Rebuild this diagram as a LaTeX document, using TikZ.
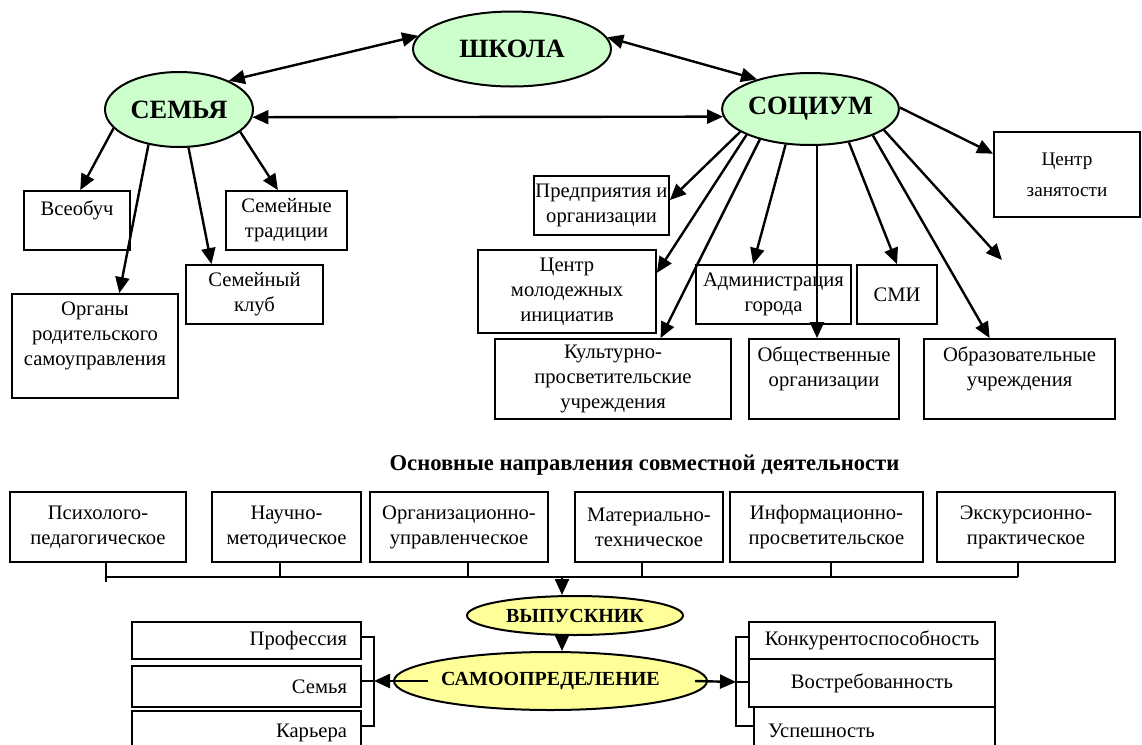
\documentclass[tikz,border=0pt]{standalone}
\usepackage{fontspec}
\setmainfont{Liberation Serif}
\usetikzlibrary{shapes.geometric,arrows.meta,calc}
\definecolor{ellgreen}{HTML}{CCFFCC}
\definecolor{ellyellow}{HTML}{FFFF99}
\newcommand\bxfont{\fontsize{10.3}{12.5}\selectfont}
\newcommand\bigbold{\fontsize{13.2}{15}\selectfont\bfseries}
\newcommand\midbold{\fontsize{10}{12}\selectfont\bfseries}
\begin{document}
\begin{tikzpicture}[x=0.5pt,y=-0.5pt,
  bx/.style={draw, line width=0.9pt, rectangle, inner sep=0pt, align=center, font=\bxfont, fill=white},
  ell/.style={draw, ellipse, line width=1pt, inner sep=0pt},
  gell/.style={ell, fill=ellgreen, font=\bigbold},
  yell/.style={ell, fill=ellyellow, font=\midbold},
  tip/.tip={Triangle[length=8pt,width=7pt]},
  arr/.style={line width=1.2pt, -tip},
  darr/.style={line width=1.2pt, tip-tip},
  brk/.style={line width=1pt},
]
\useasboundingbox (0,0) rectangle (1142,745);
\clip (0,0) rectangle (1142,745);

% ellipses top
\node[gell, minimum width=99pt, minimum height=37.5pt] (shkola) at (512,49) {ШКОЛА};
\node[gell, minimum width=74pt, minimum height=37.5pt] (semya) at (179,109.5) {СЕМЬЯ};
\node[gell, minimum width=87.5pt, minimum height=36pt] (socium) at (810.5,109) {СОЦИУМ};

% family boxes
\node[bx, minimum width=53pt, minimum height=29.5pt] (vseobuch) at (77,220.5) {Всеобуч\\~};
\node[bx, minimum width=60.5pt, minimum height=29.5pt] (trad) at (286.5,220.5) {Семейные\\традиции};
\node[bx, minimum width=68.5pt, minimum height=29.5pt] (klub) at (254.5,294.5) {Семейный\\клуб};
\node[bx, minimum width=83pt, minimum height=52pt] (organy) at (95,346) {Органы\\родительского\\самоуправления\\~};

% society boxes
\node[bx, minimum width=67.5pt, minimum height=29.5pt] (predpr) at (601.5,205.5) {Предприятия и\\организации};
\node[bx, minimum width=89pt, minimum height=41.5pt] (cmol) at (567,291.5) {Центр\\молодежных\\инициатив};
\node[bx, minimum width=77.5pt, minimum height=29.5pt] (admin) at (773.5,294.5) {Администрация\\города};
\node[bx, minimum width=118pt, minimum height=40pt] (kult) at (613,379) {Культурно-\\просветительские\\учреждения};
\node[bx, minimum width=75pt, minimum height=40pt] (obsch) at (824,379) {Общественные\\организации\\~};
\node[bx, minimum width=40pt, minimum height=29.5pt] (smi) at (897,294.5) {СМИ};
\node[bx, minimum width=95.5pt, minimum height=40pt] (obraz) at (1019.5,379) {Образовательные\\учреждения\\~};
\node[bx, minimum width=73pt, minimum height=42.5pt, font=\fontsize{9.6}{12.5}\selectfont] (zanyat) at (1067,174.5) {Центр\\[3pt]занятости};
\coordinate (free) at (1002,260);

% top connectors
\draw[darr] (shkola.172) -- (semya.30);
\draw[darr] (shkola.7) -- (socium.151);
\draw[darr] (semya.-6) -- (socium.185);

\draw[arr] (semya.196) -- ($(vseobuch.north west)!0.53!(vseobuch.north east)$);
\draw[arr] (semya.229) -- ($(organy.north west)!0.645!(organy.north east)$);
\draw[arr] (semya.284) -- ($(klub.north west)!0.19!(klub.north east)$);
\draw[arr] (semya.340) -- ($(trad.north west)!0.43!(trad.north east)$);

\draw[arr] (socium.198) -- ($(predpr.north east)!0.41!(predpr.south east)$);
\draw[arr] (socium.202) -- ($(cmol.north east)!0.28!(cmol.south east)$);
\draw[arr] (socium.211) -- ($(kult.north west)!0.7!(kult.north east)$);
\draw[arr] (socium.235) -- ($(admin.north west)!0.37!(admin.north east)$);
\draw[arr] (socium.-80) -- (socium.-80 |- obsch.north);
\draw[arr] (socium.-41) -- (smi.north);
\draw[arr] (socium.-23) -- ($(obraz.north west)!0.345!(obraz.north east)$);
\draw[arr] (socium.-16) -- (free);
\draw[arr] (socium.1) -- ($(zanyat.north west)!0.26!(zanyat.south west)$);

% title
\node[font=\fontsize{11.3}{13}\selectfont\bfseries, inner sep=0pt] (title) at (644.5,465) {Основные направления совместной деятельности};

% directions row
\node[bx, minimum width=88pt, minimum height=35pt] (psych) at (98,527) {Психолого-\\педагогическое};
\node[bx, minimum width=74.5pt, minimum height=35pt] (nauch) at (286.5,527) {Научно-\\методическое};
\node[bx, minimum width=89pt, minimum height=35pt] (organ) at (459,527) {Организационно-\\управленческое};
\node[bx, minimum width=74pt, minimum height=35pt] (mater) at (649,527) {Материально-\\техническое};
\node[bx, minimum width=96.5pt, minimum height=35pt] (inform) at (826.5,527) {Информационно-\\просветительское};
\node[bx, minimum width=89pt, minimum height=35pt] (ekskurs) at (1026,527) {Экскурсионно-\\практическое};

\coordinate (t1) at (106,577);
\coordinate (t2) at (280,577);
\coordinate (t3) at (468,577);
\coordinate (t4) at (642,577);
\coordinate (t5) at (831,577);
\coordinate (t6) at (1018,577);
\coordinate (bv) at (562,577);
\draw[brk] (t1 |- psych.south) -- ($(t1)+(0,5)$);
\draw[brk] (t1) -- (t6);
\draw[brk] (t2 |- nauch.south) -- (t2);
\draw[brk] (t3 |- organ.south) -- (t3);
\draw[brk] (t4 |- mater.south) -- (t4);
\draw[brk] (t5 |- inform.south) -- (t5);
\draw[brk] (t6 |- ekskurs.south) -- (t6);

% graduate
\node[yell, minimum width=108pt, minimum height=19.5pt] (vyp) at (575,615.5) {ВЫПУСКНИК};
\node[yell, minimum width=156.5pt, minimum height=29pt] (samo) at (550.5,681) {САМООПРЕДЕЛЕНИЕ};
\draw[arr] (bv) -- (bv |- vyp.north);
\draw[arr] (bv |- vyp.south) -- (bv |- samo.north);

% left results
\node[bx, minimum width=114.5pt, minimum height=18.5pt, text width=100.5pt, align=right] (prof) at (246.5,640.5) {Профессия};
\node[bx, minimum width=114.5pt, minimum height=20.5pt, text width=100.5pt, align=right] (sem2) at (246.5,686.5) {Семья};
\node[bx, minimum width=114.5pt, minimum height=22pt, text width=100.5pt, align=right] (karera) at (246.5,733) {Карьера};
\coordinate (lt) at (374,637);
\coordinate (lb) at (374,681);
\coordinate (lbt) at (374,726);
\draw[brk] (prof.east |- lt) -- (lt) -- (lbt) -- (karera.east |- lbt);
\draw[brk] (sem2.east |- lb) -- (lb);
\coordinate (sl) at ($(samo.center)+(-122.5,0)$);
\draw[arr] (sl) -- (lb);

% right results
\node[bx, minimum width=123pt, minimum height=18.5pt] (konk) at (872,640.5) {Конкурентоспособность};
\node[bx, minimum width=123pt, minimum height=24pt] (vostr) at (872,683) {Востребованность};
\node[bx, minimum width=120.5pt, minimum height=24pt, text width=106.5pt, align=left] (uspesh) at (874.5,731) {Успешность};
\coordinate (rt) at (736,637);
\coordinate (rb) at (736,682);
\coordinate (rbt) at (736,726);
\draw[brk] (konk.west |- rt) -- (rt) -- (rbt) -- (uspesh.west |- rbt);
\draw[brk] (vostr.west |- rb) -- (rb);
\coordinate (sr) at ($(samo.center)+(144.5,0)$);
\draw[arr] (sr) -- (rb);
\end{tikzpicture}
\end{document}
